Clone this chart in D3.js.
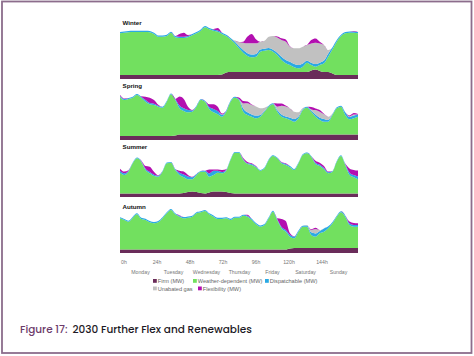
<!DOCTYPE html>
<html>
<head>
<meta charset="utf-8">
<script src="https://cdn.jsdelivr.net/npm/d3@7"></script>
<style>
html,body{margin:0;padding:0;background:#fff;}
svg{display:block;}
</style>
</head>
<body>
<svg id="chart" width="474" height="356"></svg>
<script>
// ---------- DATA ----------
const hours = d3.range(0, 169, 3); // 3-hourly samples across the week
const tickHours = [0, 24, 48, 72, 96, 120, 144];
const tickLabels = ["0h", "24h", "48h", "72h", "96h", "120h", "144h"];
const dayHours = [12, 36, 60, 84, 108, 132, 156];
const dayLabels = ["Monday", "Tuesday", "Wednesday", "Thursday", "Friday", "Saturday", "Sunday"];
const seasons = ["Winter", "Spring", "Summer", "Autumn"];
const seriesKeys = ["firm", "weather", "disp", "gas", "flex"];
const seriesNames = ["Firm (MW)", "Weather-dependent (MW)", "Dispatchable (MW)", "Unabated gas", "Flexibility (MW)"];

// values in GW
const winterFirm = [4,4,4,4,4,4,4,4,4,4,4,4,4,4,4,4,4,4,4,4,4,4,4,4,4.5,6.5,7,7,7,7,7,7,7,7,7,7,7,7,7,7,7,7,7,7,7,8.5,9.5,8,7,7,5.5,4,4,4,4,4,4];
const winterWeather = [41.7,42.3,42.7,43,43,43,43,42.7,41,38.3,38.3,39,42.3,37.7,37,37,37.7,39.7,41.7,44.3,47.7,45.7,44.3,43.3,40.5,36.5,32.7,28.7,23.7,19.3,16,14.7,15.3,20.3,21.3,22,20.3,17,12,8.7,7,4.7,3.7,5.3,9.3,5.5,2.8,6,8.7,15.3,24.2,33.3,39,41.7,42.3,42.3,41.7];
const winterDisp = [1.3,1.3,1.3,1.3,1.3,1.3,1.3,1.3,1.3,1.3,1.3,1.3,1,1.3,1.3,1.3,1.3,1.3,1.3,1.3,1.3,1.3,1.3,1.3,1.3,1.3,1.3,1.7,2.3,2.7,2.7,2.7,2.7,2.3,2,2,2,2.3,3.3,3.3,3.3,3.3,3.3,3.3,2,2.3,2.7,2.3,2.7,3.3,2,1.7,1.3,1.3,1.3,1.3,1.3];
const winterGas = [0,0,0,0,0,0,0,0,0,0,0,0,0,0,0,0,0,0,0,0,0,0,0,0,0,0,0,1,4,7.3,10,11.3,10.7,7.7,8,11.3,13.7,15.3,16.7,18.3,15,15.7,16.7,16.7,15.7,19.3,21.3,19.3,15.7,3.3,0,0,0,0,0,0,0];
const winterFlex = [0,0,0,0,0,0,0,0,0,0,0,0,0,0,2.7,4,1,0,0,0,0,0,0.5,2.3,0.3,0,0,0,0,1,6.7,9.3,4,0,0,0,0,1,1.7,2.3,0.5,0,0,0,0,3.3,4.3,1.7,0,0,0,0,0,0,0,0.5,0];

const springFirm = [4,4,4,4,4,4,4,4,4,4,4,4,4,4.5,5.5,5.5,5.5,5.5,5.5,5.5,5.5,5.5,5.5,5.5,5.5,5.5,5.5,5.5,5.5,5.5,5.5,5.5,5.5,5.5,5.5,5.5,5.5,5.5,5.5,5.5,5.5,5.5,5.5,5.5,5.5,5.5,5.5,5.5,5.5,5.5,5.5,5.5,5.5,5.5,5.5,5.5,5.5];
const springWeather = [39.3,36,37,38.3,41,38.3,34.3,31.7,31,29.3,28.3,34.3,41.7,35.5,26.2,23.5,22.2,22.8,27.8,34.5,32.8,25.5,22.2,20.2,17.8,22.8,32.8,36.8,34.5,22.8,19.5,17.8,16.2,17.8,22.8,27.8,30.2,22.8,17.8,16.2,14.5,12.8,16.2,24.5,26.8,22.8,17.8,14.5,12.8,12.8,19.5,26.2,27.8,19.5,15.2,16.2,17.8];
const springDisp = [1,1,1,1,1,1,1.7,1.3,1.3,1,1,0.7,0.7,1,2.7,2.7,2.3,1.3,1,0.7,1,2,3.3,3.3,1.7,1.3,1,1,1,3.3,2.7,2.3,2.7,1.7,1,1,1,1.7,2.3,1.7,2.3,2.7,1.7,1,1,1.3,2.3,2.3,2.7,1.7,1,1,1,2.7,2.3,2.7,2.3];
const springGas = [0,0,0,0,0,0,0,0,0,0,0,0,0,0,0,0,0,0,0,0,0,0,0,0,0.5,0,0,0,0,5,9,9.3,9,6.7,3,0,0,3.3,8.7,10,9.3,7.3,4.3,1,0,1,4.3,6,4.7,3.3,0.5,0,0,0,0.5,1,0];
const springFlex = [1,0.5,0,0,0,0.5,3.3,5.3,3.7,1,0,0,0,0,9,9.3,3.3,0.5,0,0,0,2.7,4.7,4.3,1,0,0,0,1.5,2.3,1.7,0.5,0,0,0,0,0,3.3,2.3,1,0,0,0,0,0,2.3,1.7,1.7,0.5,0,0,0,0,0,1,1.5,0.5];

const summerFirm = [3.5,3.5,3.5,3.5,3.5,3.5,3.5,3.5,3.5,3.5,3.5,3.5,3.5,3.5,3.5,4,5,5.5,5,4,3.5,4.5,5.5,5.5,5.5,5,4,3.5,3.5,3.5,3.5,3.5,3.5,3.5,3.5,3.5,3.5,3.5,3.5,3.5,3.5,3.5,3.5,3.5,3.5,3.5,3.5,3.5,3.5,3.5,3.5,3.5,3.5,3.5,3.5,3.5,3.5];
const summerWeather = [20.8,18.5,21.8,30.2,35.2,31.8,23.5,20.2,17.5,16.8,21.8,30.2,30.8,23.5,18.5,15.7,12.7,12.2,17,21.3,21.8,15.8,16.5,18.8,18.2,21.3,33,40.8,40.8,33.5,29.5,28.5,26.2,22.8,25.2,33.5,37.5,35.2,30.2,28.5,26.2,23.5,30.2,38.5,40.2,36.8,29.5,27.5,24.2,20.2,21.8,31.8,37.5,28.5,18.5,16.2,14.2];
const summerDisp = [2,1.7,1,0.7,0.7,0.7,1.3,1.3,1.3,1,0.7,0.7,0.7,1,2.3,2.7,2.7,2,1,0.7,1,3.3,4.3,2,1.3,1,0.7,0.7,0.7,1,0.7,1,0.7,0.7,0.7,0.7,0.7,0.7,0.7,1,1.3,1,0.7,0.7,0.7,0.7,1.3,1.3,1.3,1,0.7,0.7,0.7,1,2.3,2.3,2.7];
const summerGas = [0,0,0,0,0,0,0,0,0,0,0,0,0,0,0,0,0,0,0,0,0,0,0,0,0,0,0,0,0,0,0,0,0,0,0,0,0,0,0,0,0,0,0,0,0,0,0,0,0,0,0,0,0,0,0,0,0];
const summerFlex = [2,1.7,0.5,0,0,0.5,2.7,5.3,3,0.5,0,0,0,0,2,3,1.7,0.5,0,0,0,4,1.3,1.3,2,0.5,0,0,0,1,1.3,0.7,0.7,0,0,0,0,0,0.7,0.7,0,0,0,0,0,0,2,2,2,0.7,0,0,0,0.5,4.3,5,6];

const autumnFirm = [3.5,3.5,3.5,3.5,3.5,3.5,3.5,3.5,3.5,3.5,3.5,3.5,3.5,3.5,3.5,3.5,3.5,3.5,3.5,3.5,3.5,3.5,3.5,3.5,3.5,3.5,3.5,3.5,3.5,3.5,3.5,3.5,3.5,3.5,3.5,3.5,3.5,3.5,3.5,3.5,4.5,5,5,5,5,5,5,5,5,5,5,5,5,5,5,5,5];
const autumnWeather = [31.2,29.5,27.8,31.8,35.2,30.5,29.5,27.2,26.2,27.2,31.2,36.2,39.5,35.2,32.8,31.2,31.8,32.8,36.2,37.2,38.5,35.2,32.8,30.5,30.5,31.2,29.5,31.8,31.8,33.8,32.8,29.5,25.2,22.8,24.5,31.2,37.8,29.5,21.2,17.8,11.8,9.7,16.3,21.3,21.3,13,11.3,14.7,16.3,19.7,24.7,31.3,35.7,31.3,23,21.3,21.3];
const autumnDisp = [1,1,1,1,1,1.3,1.3,1.3,1.3,1.3,1,1,1,1,1,1.3,1.3,1,1,1,1,1,1.3,1.3,1.3,1,1.3,1,1,1,1,1.3,1.3,1.3,1,1,1,1,1.3,1.7,1.7,1.7,1.3,1,1.3,2.7,3.3,2.3,3.3,2,1.3,1,1,1.3,1.7,1.7,1.7];
const autumnGas = [0,0,0,0,0,0,0,0,0,0,0,0,0,0,0,0,0,0,0,0,0,0,0,0,0,0,0,0,0,0,0,0,0,0,0,0,0,0,0,0,0,0,0,0,0.5,2.3,4.3,1,0,0,0,0,0,0,0,0,0];
const autumnFlex = [0,0,0,0,0,0,0,0,0,0,0,0,0,0,0.5,0,0,0,0,0,0,0,0,0,0,0,0,0,0,0,1,0,0,0,0,0,0,0.7,8,9,1.7,0.3,0,0,0,0.7,1.3,0,0,0,0,0,0,0,1.7,2,1.7];

const seasonSeries = {
  Winter: [winterFirm, winterWeather, winterDisp, winterGas, winterFlex],
  Spring: [springFirm, springWeather, springDisp, springGas, springFlex],
  Summer: [summerFirm, summerWeather, summerDisp, summerGas, summerFlex],
  Autumn: [autumnFirm, autumnWeather, autumnDisp, autumnGas, autumnFlex]
};

// ---------- LAYOUT / STYLE ----------
const colors = {firm: "#6a2c5a", weather: "#72e05f", disp: "#2aa9e4", gas: "#c1c1c1", flex: "#b30fb0"};
const panelBottoms = [79, 140, 197, 253];
const panelLabelY = [24.5, 87.5, 149, 208.5];
const panelHeight = 52;
const yMax = 52;

const svg = d3.select("#chart");

// outer frame
svg.append("rect").attr("x", 2).attr("y", 1.5).attr("width", 469.5).attr("height", 351.5)
  .attr("fill", "none").attr("stroke", "#8c6d8c").attr("stroke-width", 1.8);

const x = d3.scaleLinear().domain([0, 168]).range([120, 358]);
const xLab = d3.scaleLinear().domain([0, 168]).range([123.5, 354.5]);

const stack = d3.stack().keys(seriesKeys);

seasons.forEach((s, si) => {
  const arrs = seasonSeries[s];
  const rows = hours.map((h, i) => {
    const r = {hour: h};
    seriesKeys.forEach((k, ki) => r[k] = arrs[ki][i]);
    return r;
  });
  const y = d3.scaleLinear().domain([0, yMax]).range([panelBottoms[si], panelBottoms[si] - panelHeight]);
  const area = d3.area()
    .x(d => x(d.data.hour))
    .y0(d => y(d[0]))
    .y1(d => y(d[1]))
    .curve(d3.curveMonotoneX);
  const g = svg.append("g");
  g.selectAll("path").data(stack(rows)).join("path")
    .attr("d", area)
    .attr("fill", d => colors[d.key]);
  svg.append("text").attr("x", 122.5).attr("y", panelLabelY[si])
    .attr("font-family", "Liberation Sans, Arial, sans-serif")
    .attr("font-size", 6.2).attr("font-weight", "bold").attr("fill", "#111")
    .text(s);
});

// hour axis
const hourAxis = svg.append("g").attr("transform", "translate(0,258)")
  .call(d3.axisBottom(xLab).tickValues(tickHours).tickFormat((d, i) => tickLabels[i]).tickSize(0));
hourAxis.select(".domain").remove();
hourAxis.selectAll("text").attr("y", 6).attr("dy", 0)
  .attr("font-family", "Liberation Sans, Arial, sans-serif").attr("font-size", 5.2).attr("fill", "#777");

const dayAxis = svg.append("g").attr("transform", "translate(0,267.5)")
  .call(d3.axisBottom(xLab).tickValues(dayHours).tickFormat((d, i) => dayLabels[i]).tickSize(0));
dayAxis.select(".domain").remove();
dayAxis.selectAll("text").attr("y", 6).attr("dy", 0)
  .attr("font-family", "Liberation Sans, Arial, sans-serif").attr("font-size", 5.2).attr("fill", "#777");

// legend
const legendPos = [[153, 283], [193, 283], [265, 283], [153, 290.5], [198, 290.5]];
seriesKeys.forEach((k, i) => {
  const [lx, ly] = legendPos[i];
  svg.append("rect").attr("x", lx).attr("y", ly - 4).attr("width", 3.8).attr("height", 3.8).attr("fill", colors[k]);
  svg.append("text").attr("x", lx + 4.8).attr("y", ly)
    .attr("font-family", "Liberation Sans, Arial, sans-serif").attr("font-size", 5.6).attr("fill", "#666")
    .text(seriesNames[i]);
});

// caption
const cap = svg.append("text").attr("x", 20).attr("y", 333)
  .attr("font-family", "Poppins, 'Open Sans', sans-serif").attr("font-size", 10.5).attr("font-weight", 500);
cap.append("tspan").attr("fill", "#6d3b6b").text("Figure 17:");
cap.append("tspan").attr("fill", "#1d1a26").attr("dx", 5).text("2030 Further Flex and Renewables");
</script>
</body>
</html>
